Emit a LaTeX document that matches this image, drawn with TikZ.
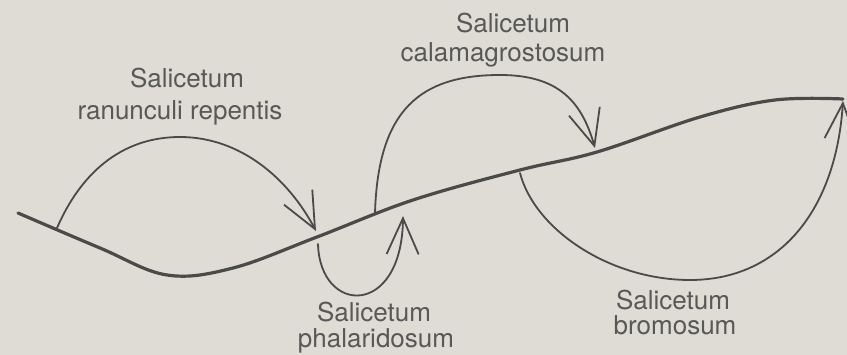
\documentclass[tikz,border=0pt]{standalone}
\usepackage{fontspec}
\setmainfont{TeX Gyre Heros}
\usetikzlibrary{arrows.meta}
\definecolor{paper}{HTML}{DEDCD4}
\definecolor{ink}{HTML}{4A4A4A}
\definecolor{txt}{HTML}{585858}
\tikzset{
  lbl/.style={anchor=base, inner sep=0pt, text=txt, font=\fontsize{26}{30}\selectfont},
  mainline/.style={draw=ink, line width=3.2pt, line cap=round},
  succ/.style={draw=ink, line width=1.8pt, line cap=round,
    -{Straight Barb[length=36pt, width=32pt, line width=1.8pt]}},
}
\begin{document}
\begin{tikzpicture}[x=1pt, y=-1pt]
\useasboundingbox (0,0) rectangle (847,355);
\fill[paper] (0,0) rectangle (847,355);

% main gradient line
\draw[mainline] plot[smooth, tension=0.6] coordinates {
 (18,213) (100,248) (167,275) (233,268) (317,237)
 (413,200) (520,170) (597,152) (700,117) (775,100) (843,99)};

% named points
\coordinate (r0) at (57,228);
\coordinate (ra) at (180,137);
\coordinate (r1) at (316,231);
\coordinate (p0) at (318,244);
\coordinate (p1) at (403,216);
\coordinate (c0) at (375,213);
\coordinate (ca) at (500,75);
\coordinate (c1) at (595,148);
\coordinate (b0) at (520,173);
\coordinate (ba) at (690,280);
\coordinate (b1) at (843,101);

% arrows
\draw[succ] (r0) .. controls (80,175) and (120,137) .. (ra)
                 .. controls (240,137) and (288,178) .. (r1);
\draw[succ] (p0) .. controls (320,315) and (402,318) .. (p1);
\draw[succ] (c0) .. controls (378,110) and (420,75) .. (ca)
                 .. controls (560,75) and (582,103) .. (c1);
\draw[succ] (b0) .. controls (535,230) and (610,280) .. (ba)
                 .. controls (780,280) and (836,210) .. (b1);

% labels
\node[lbl] (rt1) at (187,88) {Salicetum};
\node[lbl] (rt2) at (180,120) {ranunculi repentis};
\node[lbl] (ct1) at (513,33) {Salicetum};
\node[lbl] (ct2) at (503,62) {calamagrostosum};
\node[lbl] (pt1) at (374,322) {Salicetum};
\node[lbl] (pt2) at (376,348) {phalaridosum};
\node[lbl] (bt1) at (673,310) {Salicetum};
\node[lbl] (bt2) at (675,335) {bromosum};
\end{tikzpicture}
\end{document}
